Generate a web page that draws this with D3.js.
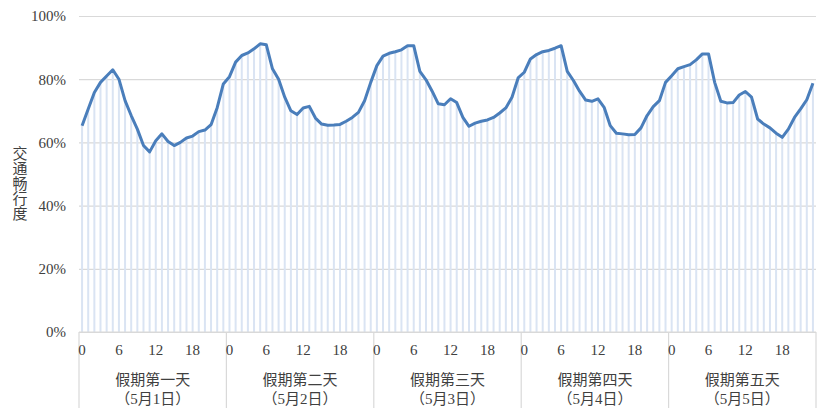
<!DOCTYPE html>
<html>
<head>
<meta charset="utf-8">
<script src="https://d3js.org/d3.v7.min.js"></script>
<style>
body { margin: 0; background: #fff; }
text { font-family: "Liberation Serif", "Noto Sans CJK SC", serif; fill: #404040; }
</style>
</head>
<body>
<script>
// day names and dates for the two level category axis
var dayNames = ["假期第一天", "假期第二天", "假期第三天", "假期第四天", "假期第五天"];
var dayDates = ["（5月1日）", "（5月2日）", "（5月3日）", "（5月4日）", "（5月5日）"];
var hourTicks = [0, 6, 12, 18];
var yTicks = [0, 0.2, 0.4, 0.6, 0.8, 1.0];
var yTitle = "交通畅行度";

// hourly values (%) for each day
var day1 = [65.3, 70.6, 75.8, 79, 81, 83, 80, 73.2, 68.5, 64.2, 59, 57, 60.5, 62.7, 60.3, 59, 60, 61.4, 62, 63.4, 63.9, 65.6, 71, 78.5];
var day2 = [80.8, 85.4, 87.5, 88.3, 89.6, 91.2, 90.9, 83.3, 80, 74.3, 70, 68.8, 70.9, 71.4, 67.7, 65.8, 65.4, 65.5, 65.7, 66.7, 67.9, 69.5, 73.2, 79];
var day3 = [84.3, 87.3, 88.2, 88.7, 89.3, 90.6, 90.6, 82.5, 79.8, 76.2, 72.2, 71.9, 73.8, 72.6, 67.9, 65.1, 66.1, 66.7, 67.1, 67.9, 69.3, 70.9, 74.3, 80.4];
var day4 = [82.2, 86.4, 87.8, 88.7, 89.1, 89.8, 90.6, 82.5, 79.6, 76.2, 73.4, 73, 73.8, 71.1, 65.3, 62.9, 62.7, 62.4, 62.5, 64.6, 68.5, 71.3, 73.2, 79];
var day5 = [81.1, 83.3, 84, 84.6, 86.1, 88, 88, 79, 73, 72.5, 72.6, 75, 76.1, 74.3, 67.4, 65.8, 64.6, 62.9, 61.6, 64.2, 67.9, 70.6, 73.5, 78.7];

var width = 831, height = 417;
var margin = {top: 16, left: 79, right: 15, bottom: 85};

// flatten days into one series of 120 points
var points = [];
[day1, day2, day3, day4, day5].forEach(function(vals, d) {
  vals.forEach(function(v, h) {
    points.push({day: d, hour: h, key: d * 24 + h, value: v / 100});
  });
});

var svg = d3.select("body").append("svg")
  .attr("width", width)
  .attr("height", height);

var x = d3.scaleBand()
  .domain(points.map(function(p) { return p.key; }))
  .range([margin.left, width - margin.right]);

var y = d3.scaleLinear()
  .domain([0, 1])
  .range([height - margin.bottom, margin.top]);

// gridlines + y labels
var yAxis = d3.axisLeft(y)
  .tickValues(yTicks)
  .tickFormat(d3.format(".0%"))
  .tickSize(-(width - margin.left - margin.right))
  .tickPadding(13);

var yGroup = svg.append("g")
  .attr("transform", "translate(" + margin.left + ",0)")
  .call(yAxis);
yGroup.select(".domain").remove();
yGroup.selectAll("line").attr("stroke", "#d9d9d9").attr("stroke-width", 1.2);
yGroup.selectAll("text").style("font-size", "15px").attr("fill", "#404040");

// thin drop bars
var bw = 2;
svg.append("g").selectAll("rect")
  .data(points)
  .enter().append("rect")
  .attr("x", function(d) { return x(d.key) + x.bandwidth() / 2 - bw / 2; })
  .attr("y", function(d) { return y(d.value); })
  .attr("width", bw)
  .attr("height", function(d) { return y(0) - y(d.value); })
  .attr("fill", "#dae4f3");

// line
var line = d3.line()
  .x(function(d) { return x(d.key) + x.bandwidth() / 2; })
  .y(function(d) { return y(d.value); });

svg.append("path")
  .datum(points)
  .attr("d", line)
  .attr("fill", "none")
  .attr("stroke", "#4a7ebb")
  .attr("stroke-width", 3)
  .attr("stroke-linejoin", "round");

// x axis: base line + day separators
var y0 = y(0);
svg.append("line")
  .attr("x1", margin.left).attr("x2", width - margin.right)
  .attr("y1", y0).attr("y2", y0)
  .attr("stroke", "#d9d9d9").attr("stroke-width", 1.2);

var dayEdges = d3.range(6).map(function(d) {
  return d < 5 ? x(d * 24) : width - margin.right;
});
svg.append("g").selectAll("line")
  .data(dayEdges)
  .enter().append("line")
  .attr("x1", function(d) { return d; })
  .attr("x2", function(d) { return d; })
  .attr("y1", y0)
  .attr("y2", 408)
  .attr("stroke", "#d9d9d9")
  .attr("stroke-width", 1.2);

// hour labels
var hourLabels = [];
dayNames.forEach(function(n, d) {
  hourTicks.forEach(function(h) { hourLabels.push({key: d * 24 + h, text: h}); });
});
svg.append("g").selectAll("text")
  .data(hourLabels)
  .enter().append("text")
  .attr("x", function(d) { return x(d.key) + x.bandwidth() / 2; })
  .attr("y", y0 + 23)
  .attr("text-anchor", "middle")
  .style("font-size", "15px")
  .text(function(d) { return d.text; });

// day labels
var dayG = svg.append("g").selectAll("g")
  .data(dayNames)
  .enter().append("g")
  .attr("transform", function(d, i) {
    return "translate(" + ((dayEdges[i] + dayEdges[i + 1]) / 2) + ",0)";
  });
dayG.append("text")
  .attr("y", y0 + 53)
  .attr("text-anchor", "middle")
  .style("font-size", "15px")
  .text(function(d) { return d; });
dayG.append("text")
  .attr("y", y0 + 72)
  .attr("text-anchor", "middle")
  .style("font-size", "15px")
  .text(function(d, i) { return dayDates[i]; });

// vertical y title, one char per line
svg.append("g").selectAll("text")
  .data(yTitle.split(""))
  .enter().append("text")
  .attr("x", 20)
  .attr("y", function(d, i) { return 159 + i * 15; })
  .attr("text-anchor", "middle")
  .style("font-size", "15px")
  .text(function(d) { return d; });
</script>
</body>
</html>
